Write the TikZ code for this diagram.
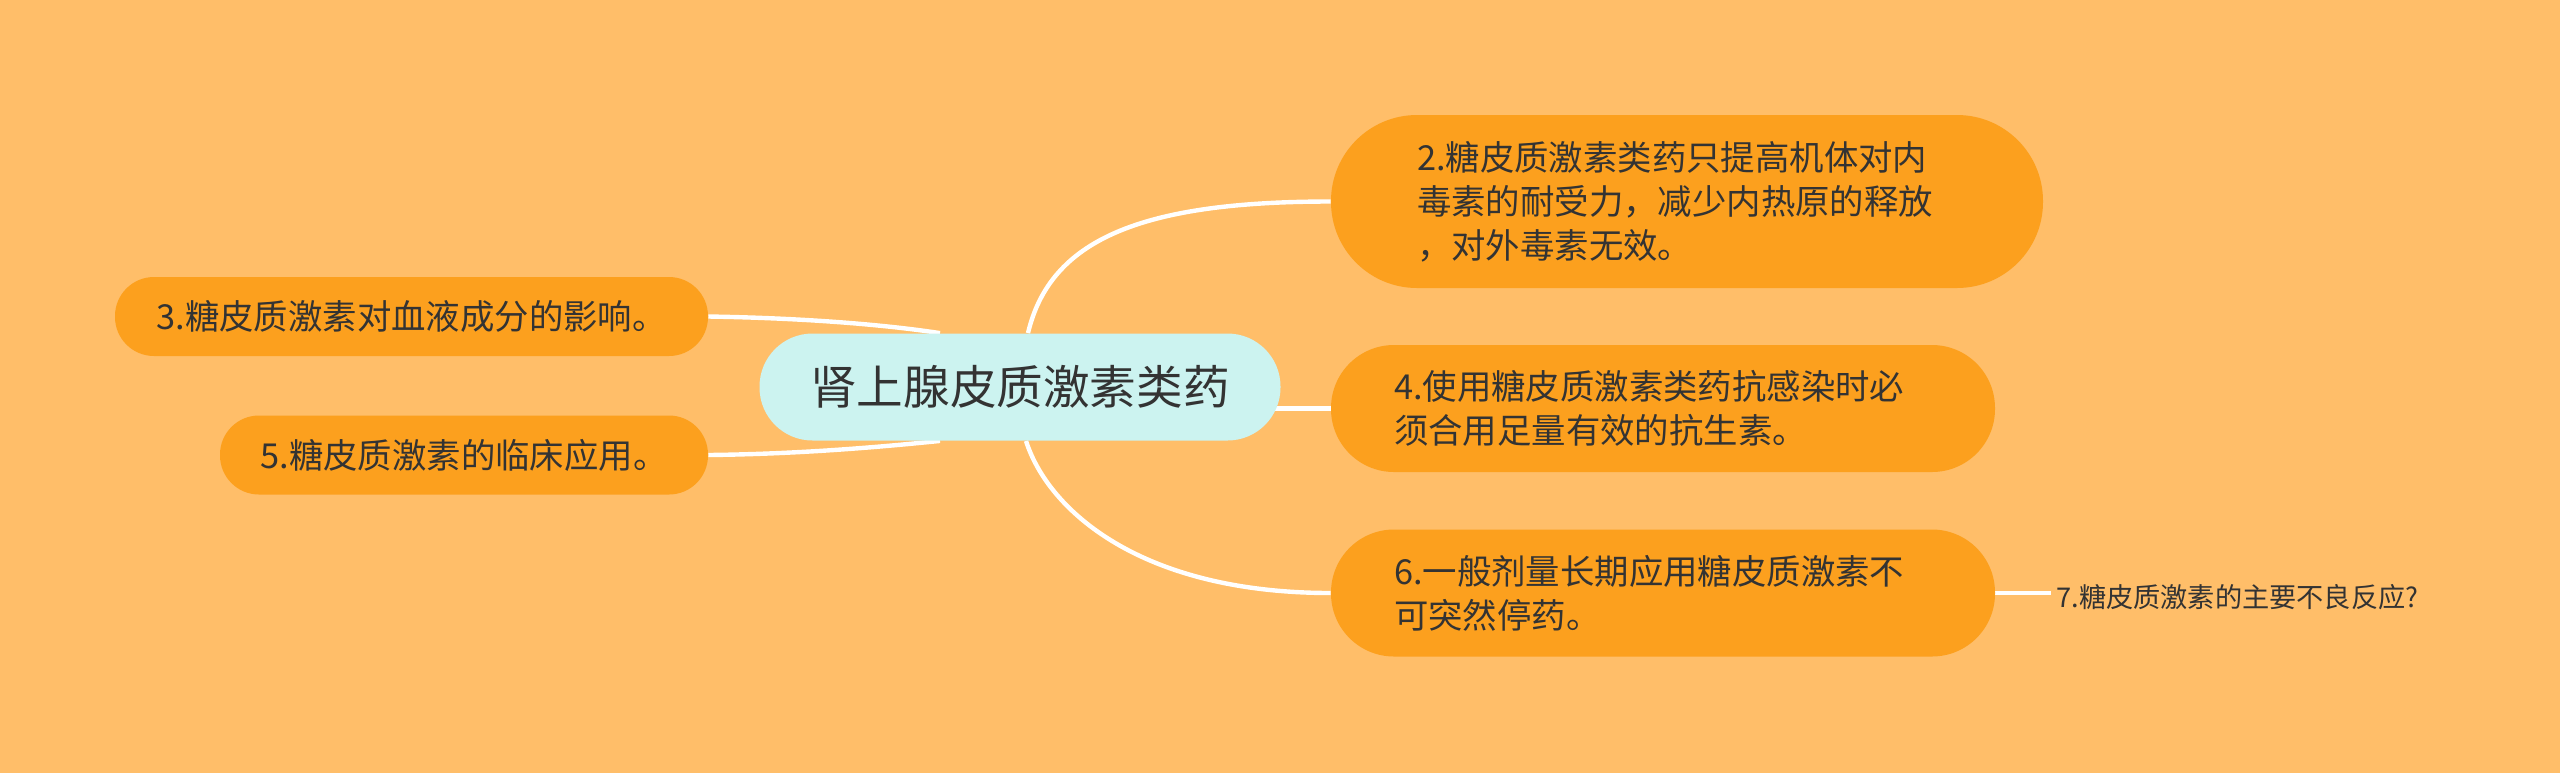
\documentclass[tikz,border=0pt]{standalone}
\usepackage{fontspec}
\newfontfamily\cjk{Noto Sans CJK SC}
\usetikzlibrary{calc}
\definecolor{bgorange}{RGB}{255,190,105}
\definecolor{leaforange}{RGB}{252,160,30}
\definecolor{rootcyan}{RGB}{204,243,240}
\definecolor{txtgray}{RGB}{51,51,51}
\pgfdeclarelayer{edges}
\pgfsetlayers{edges,main}
\tikzset{
  rootbox/.style={fill=rootcyan, rounded corners=26.5pt, minimum width=260.5pt, minimum height=53.5pt, inner sep=0pt, text=txtgray, font=\cjk\fontsize{23.3}{28}\selectfont},
  leafbox/.style={fill=leaforange, inner sep=0pt, text=txtgray, font=\cjk\fontsize{17.2}{22}\selectfont},
  widebox/.style={leafbox, text width=269pt, align=left, inner xsep=31.5pt, minimum height=63.5pt, rounded corners=31.5pt},
  shortbox/.style={leafbox, minimum height=39.5pt, rounded corners=19.5pt},
  tiptext/.style={inner sep=2.5pt, text=txtgray, font=\cjk\fontsize{13.6}{17}\selectfont},
  link/.style={draw=white, line width=2.2pt}
}
\begin{document}
\begin{tikzpicture}[x=0.5pt,y=-0.5pt]
\useasboundingbox (0,0) rectangle (2560,773);
% Root
\node [rootbox] (root) at (1020,387) {肾上腺皮质激素类药};
% Right branch
\node [widebox, text width=270pt, inner xsep=43pt, minimum height=86.5pt, rounded corners=43pt] (n2) at (1687,201.5) {2.糖皮质激素类药只提高机体对内\\毒素的耐受力，减少内热原的释放\\，对外毒素无效。};
\node [widebox] (n4) at (1663,408.5) {4.使用糖皮质激素类药抗感染时必\\须合用足量有效的抗生素。};
\node [widebox] (n6) at (1663,593) {6.一般剂量长期应用糖皮质激素不\\可突然停药。};
\node [tiptext, anchor=west] (n7) at (2051,597) {7.糖皮质激素的主要不良反应?};
% Left branch
\node [shortbox, minimum width=296.5pt] (n3) at (411.5,316.5) {3.糖皮质激素对血液成分的影响。};
\node [shortbox, minimum width=244pt] (n5) at (464,455) {5.糖皮质激素的临床应用。};
% Connectors
\begin{pgfonlayer}{edges}
\fill [bgorange] (0,0) rectangle (2560,773);
\draw [link] ($(root.north)+(8,0)$) .. controls (1050,240) and (1140,201.5) .. (n2.west);
\draw [link] (n4.west) -- (n4.west -| root.center);
\draw [link] ($(root.south)+(6,0)$) .. controls (1048,510) and (1140,593) .. (n6.west);
\draw [link] (n6.east) -- (n6.east -| n7.west);
\draw [link] (n3.east) .. controls (800,318) and (880,324) .. ($(root.north)+(-80,0)$);
\draw [link] (n5.east) .. controls (800,454) and (880,447) .. ($(root.south)+(-80,0)$);
\end{pgfonlayer}
\end{tikzpicture}
\end{document}
